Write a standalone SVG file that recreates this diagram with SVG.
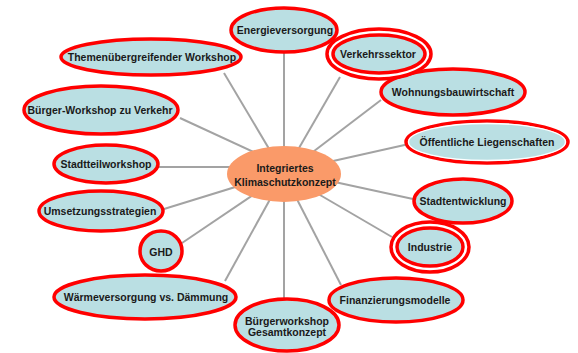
<svg xmlns="http://www.w3.org/2000/svg" width="578" height="353" viewBox="0 0 578 353">
<style>
.bg{fill:#ffffff}
.n{fill:#badfe3;stroke:#ff0000;stroke-width:3.5}
.o{fill:#ffffff;stroke:#ff0000;stroke-width:3.5}
.w{fill:none;stroke:#ffffff;stroke-width:1.3}
.c{fill:#fa9a69;stroke:none}
.l{stroke:#a3a3a3;stroke-width:2;fill:none}
text{font-family:"Liberation Sans",Arial,sans-serif;font-weight:bold;font-size:10.5px;fill:#1a1a1a;text-anchor:middle}
</style>
<rect class="bg" x="0" y="0" width="578" height="353"/>
<g id="connectors">
<line class="l" x1="284" y1="174" x2="284" y2="52"/>
<line class="l" x1="284" y1="174" x2="224" y2="73"/>
<line class="l" x1="284" y1="166" x2="180" y2="118"/>
<line class="l" x1="284" y1="167" x2="158" y2="167"/>
<line class="l" x1="284" y1="172" x2="164" y2="209"/>
<line class="l" x1="284" y1="174" x2="182" y2="243"/>
<line class="l" x1="284" y1="174" x2="225" y2="281"/>
<line class="l" x1="284" y1="174" x2="284" y2="299"/>
<line class="l" x1="284" y1="174" x2="341" y2="285"/>
<line class="l" x1="284" y1="174" x2="392" y2="237"/>
<line class="l" x1="284" y1="171" x2="413" y2="199"/>
<line class="l" x1="284" y1="172" x2="409" y2="144"/>
<line class="l" x1="284" y1="174" x2="381" y2="100"/>
<line class="l" x1="284" y1="174" x2="340" y2="77"/>
</g>
<g id="energieversorgung">
<ellipse class="n" cx="284" cy="30" rx="53" ry="22"/>
<text x="285" y="34">Energieversorgung</text>
</g>
<g id="themen">
<ellipse class="n" cx="151" cy="57" rx="90" ry="18"/>
<text x="152" y="61">Themenübergreifender Workshop</text>
</g>
<g id="buerger-verkehr">
<ellipse class="n" cx="101" cy="110" rx="77" ry="24"/>
<text x="100" y="114">Bürger-Workshop zu Verkehr</text>
</g>
<g id="stadtteil">
<ellipse class="n" cx="106" cy="164" rx="52" ry="19"/>
<text x="106" y="168">Stadtteilworkshop</text>
</g>
<g id="umsetzung">
<ellipse class="n" cx="101" cy="211" rx="62" ry="20"/>
<text x="100" y="215">Umsetzungsstrategien</text>
</g>
<g id="ghd">
<ellipse class="n" cx="161" cy="251" rx="21" ry="20"/>
<text x="161" y="256">GHD</text>
</g>
<g id="waerme">
<ellipse class="n" cx="145" cy="297" rx="91" ry="22"/>
<text x="146" y="301">Wärmeversorgung vs. Dämmung</text>
</g>
<g id="gesamtkonzept">
<ellipse class="n" cx="287" cy="325" rx="52" ry="26"/>
<text x="287" y="325">Bürgerworkshop</text>
<text x="287" y="336">Gesamtkonzept</text>
</g>
<g id="finanzierung">
<ellipse class="n" cx="396" cy="300" rx="67" ry="22"/>
<text x="395" y="304">Finanzierungsmodelle</text>
</g>
<g id="industrie">
<ellipse class="o" cx="430" cy="247" rx="39" ry="25"/>
<ellipse class="n" cx="430" cy="247" rx="33" ry="19"/>
<text x="430" y="251">Industrie</text>
</g>
<g id="stadtentwicklung">
<ellipse class="n" cx="463" cy="201" rx="49" ry="22"/>
<text x="463" y="205">Stadtentwicklung</text>
</g>
<g id="oeffentlich">
<ellipse class="n" cx="487" cy="142" rx="81" ry="21"/>
<ellipse class="w" cx="487" cy="142" rx="78.5" ry="18.5"/>
<text x="487" y="146">Öffentliche Liegenschaften</text>
</g>
<g id="wohnungsbau">
<ellipse class="n" cx="453" cy="92" rx="72" ry="23"/>
<text x="453" y="96">Wohnungsbauwirtschaft</text>
</g>
<g id="verkehrssektor">
<ellipse class="o" cx="379" cy="54" rx="52" ry="25"/>
<ellipse class="n" cx="379" cy="54" rx="46" ry="19"/>
<text x="378" y="58">Verkehrssektor</text>
</g>
<g id="zentrum">
<ellipse class="c" cx="284" cy="174" rx="57" ry="28"/>
<text x="285" y="172">Integriertes</text>
<text x="285" y="186">Klimaschutzkonzept</text>
</g>
</svg>
